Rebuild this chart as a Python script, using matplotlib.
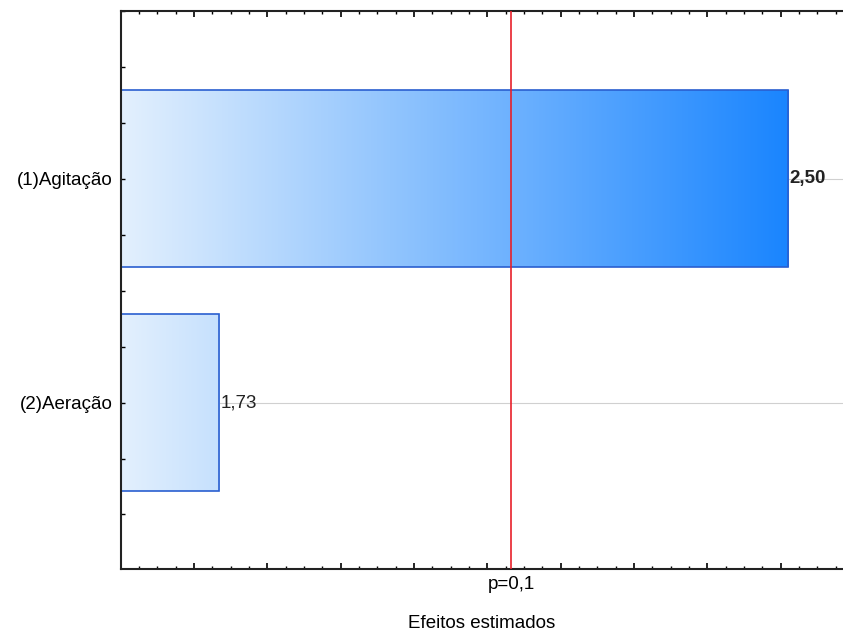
import numpy as np
import matplotlib
matplotlib.use("Agg")
import matplotlib.pyplot as plt
from matplotlib.colors import LinearSegmentedColormap
from matplotlib.patches import Rectangle
from matplotlib.ticker import MultipleLocator

plt.rcParams['font.family'] = ['Liberation Sans', 'DejaVu Sans']

factors = ["(1)Agitação", "(2)Aeração"]
effects = [2.504, 1.734]
effect_labels = ["2,50", "1,73"]
t_crit = 2.129
crit_label = "p=0,1"
x_label = "Efeitos estimados"

x_min, x_max = 1.601, 2.578
tick_step = 0.0992

fig = plt.figure(figsize=(8.43, 6.32), dpi=100)
ax = fig.add_axes([0.1432, 0.0992, 0.8568, 0.8834])

cmap = LinearSegmentedColormap.from_list("grad", ["#e3f0fd", "#1a85ff"])
bar_h = 0.79
grad = np.linspace(0, 1, 256).reshape(1, -1)
fs = 13.5

for i, (name, val, lab) in enumerate(zip(factors, effects, effect_labels)):
    ax.axhline(i, color="#d0d0d0", lw=0.8, zorder=1)
    im = ax.imshow(grad, cmap=cmap, aspect="auto",
                   extent=[x_min, effects[0], i + bar_h / 2, i - bar_h / 2],
                   zorder=1.5, interpolation="bilinear")
    rect = Rectangle((x_min, i - bar_h / 2), val - x_min, bar_h,
                     facecolor="none", edgecolor="#2a5fd0", lw=1.2, zorder=1.6)
    ax.add_patch(rect)
    im.set_clip_path(rect)
    ax.text(val + 0.002, i, lab, va="center", ha="left", fontsize=fs,
            fontweight="bold" if i == 0 else "normal", color="#222222", zorder=4)

ax.axvline(t_crit, color="#e8202a", lw=1.2, zorder=5)

ax.set_xlim(x_min, x_max)
ax.set_ylim(1.745, -0.75)

ax.set_yticks(range(len(factors)))
ax.set_yticklabels(factors, fontsize=fs)
ax.yaxis.set_minor_locator(MultipleLocator(0.25))
ax.xaxis.set_major_locator(MultipleLocator(tick_step, offset=x_min))
ax.xaxis.set_minor_locator(MultipleLocator(tick_step / 4, offset=x_min))
ax.tick_params(axis="x", which="both", direction="in", top=True, bottom=True,
               labelbottom=False)
ax.tick_params(axis="x", which="major", length=4, width=1.2)
ax.tick_params(axis="x", which="minor", length=2.5, width=1)
ax.tick_params(axis="y", which="both", direction="in", left=True, right=False,
               length=3, width=1)
ax.tick_params(axis="y", which="major", pad=6)

for s in ["left", "bottom", "top"]:
    ax.spines[s].set_linewidth(1.5)
    ax.spines[s].set_color("#222222")
ax.spines["right"].set_visible(False)

ax.annotate(crit_label, xy=(t_crit, 0), xycoords=("data", "axes fraction"),
            xytext=(0, -11), textcoords="offset points", ha="center", va="center",
            fontsize=fs)
ax.set_xlabel(x_label, fontsize=fs, labelpad=33)

fig.savefig("out.png", dpi=100)
